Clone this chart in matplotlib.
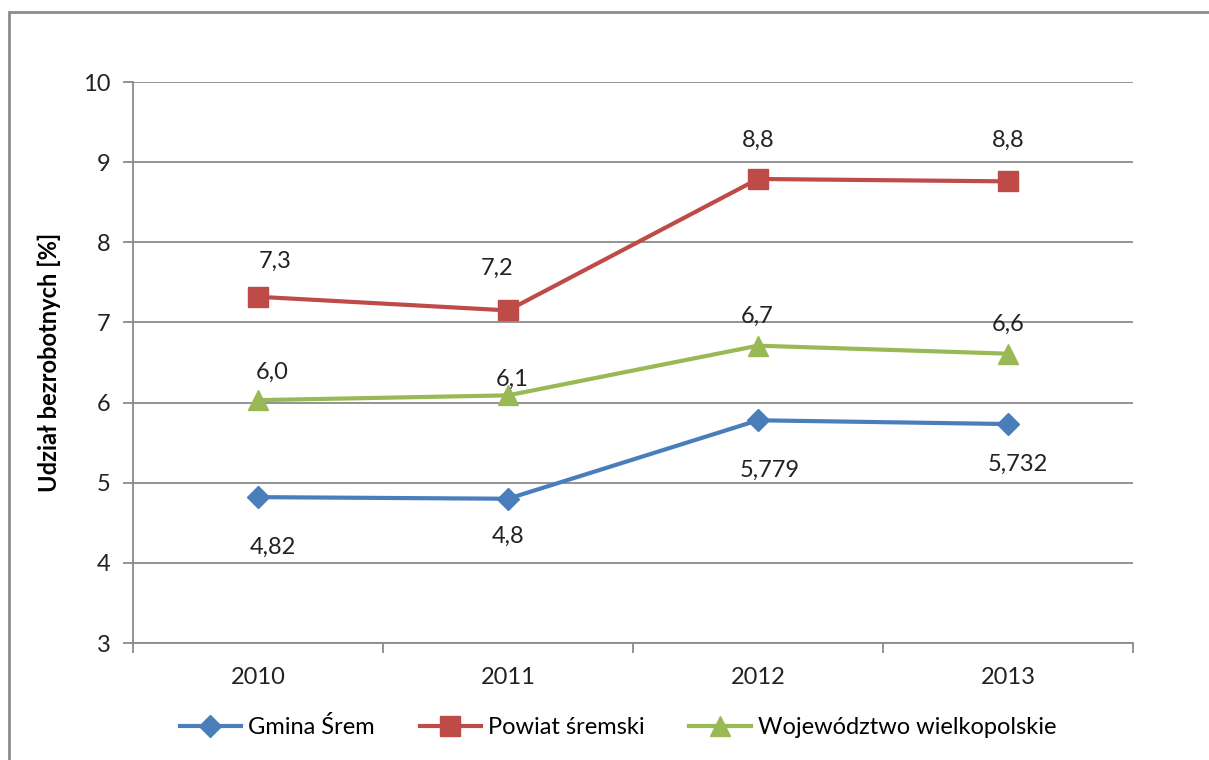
import matplotlib
matplotlib.use("Agg")
import matplotlib.pyplot as plt
from matplotlib.patches import Rectangle

years = ["2010", "2011", "2012", "2013"]
gmina = [4.82, 4.80, 5.779, 5.732]
powiat = [7.32, 7.15, 8.79, 8.76]
woj = [6.03, 6.09, 6.71, 6.61]
gmina_labels = ["4,82", "4,8", "5,779", "5,732"]
powiat_labels = ["7,3", "7,2", "8,8", "8,8"]
woj_labels = ["6,0", "6,1", "6,7", "6,6"]
series_names = ["Gmina Śrem", "Powiat śremski", "Województwo wielkopolskie"]
y_label = "Udział bezrobotnych [%]"

plt.rcParams['font.family'] = ['Lato', 'DejaVu Sans']

W, H = 1209, 760
fig = plt.figure(figsize=(W / 100, H / 100), dpi=100)
ax = fig.add_axes([133 / W, 1 - 643 / H, 1000 / W, (643 - 82) / H])

# outer border
fig.patches.append(Rectangle((9 / W, -0.1), 1.2, (H - 12) / H + 0.1, transform=fig.transFigure,
                             fill=False, edgecolor="#8c8c8c", linewidth=2))

x = list(range(len(years)))
gray = "#8a8a8a"
c_blue, c_red, c_green = "#4a7ebb", "#be4b48", "#98b954"
fs = 17

l1, = ax.plot(x, gmina, color=c_blue, lw=3, marker="D", ms=11, label=series_names[0], zorder=3)
l2, = ax.plot(x, powiat, color=c_red, lw=3, marker="s", ms=14, label=series_names[1], zorder=3)
l3, = ax.plot(x, woj, color=c_green, lw=3, marker="^", ms=15, label=series_names[2], zorder=3)

offs_p = [(17, 35), (-11, 42), (0, 39), (0, 41)]
offs_w = [(14, 28), (4, 16), (-1, 29), (0, 29)]
offs_g = [(15, -50), (0, -38), (12, -50), (10, -40)]
for vals, labs, offs in [(powiat, powiat_labels, offs_p), (woj, woj_labels, offs_w), (gmina, gmina_labels, offs_g)]:
    for xi, v, t, o in zip(x, vals, labs, offs):
        ax.annotate(t, (xi, v), xytext=o, textcoords="offset pixels", ha="center", va="center",
                    fontsize=fs, color="#222222", zorder=4)

ax.set_xlim(-0.5, 3.5)
ax.set_ylim(3, 10)
ax.set_yticks(range(3, 11))
ax.set_xticks(x)
ax.set_xticklabels(years)
ax.set_xticks([-0.5, 0.5, 1.5, 2.5, 3.5], minor=True)
ax.tick_params(axis="x", which="major", length=0, pad=17, labelsize=fs, labelcolor="#222222")
ax.tick_params(axis="x", which="minor", length=7, width=1.3, color=gray, direction="out")
ax.tick_params(axis="y", length=7, width=1.3, color=gray, pad=9, labelsize=fs, labelcolor="#222222")
ax.grid(axis="y", color=gray, lw=1.3, zorder=0)
for s in ["top", "right"]:
    ax.spines[s].set_visible(False)
for s in ["left", "bottom"]:
    ax.spines[s].set_color(gray)
    ax.spines[s].set_linewidth(1.3)
ax.set_ylabel(y_label, fontsize=fs, fontweight="bold", labelpad=16)

fig.legend(handles=[l1, l2, l3], loc="center", bbox_to_anchor=(618 / W, 1 - 727 / H), ncol=3,
           frameon=False, fontsize=fs, handlelength=2.6, columnspacing=1.9, handletextpad=0.3)

fig.savefig("out.png", dpi=100)
